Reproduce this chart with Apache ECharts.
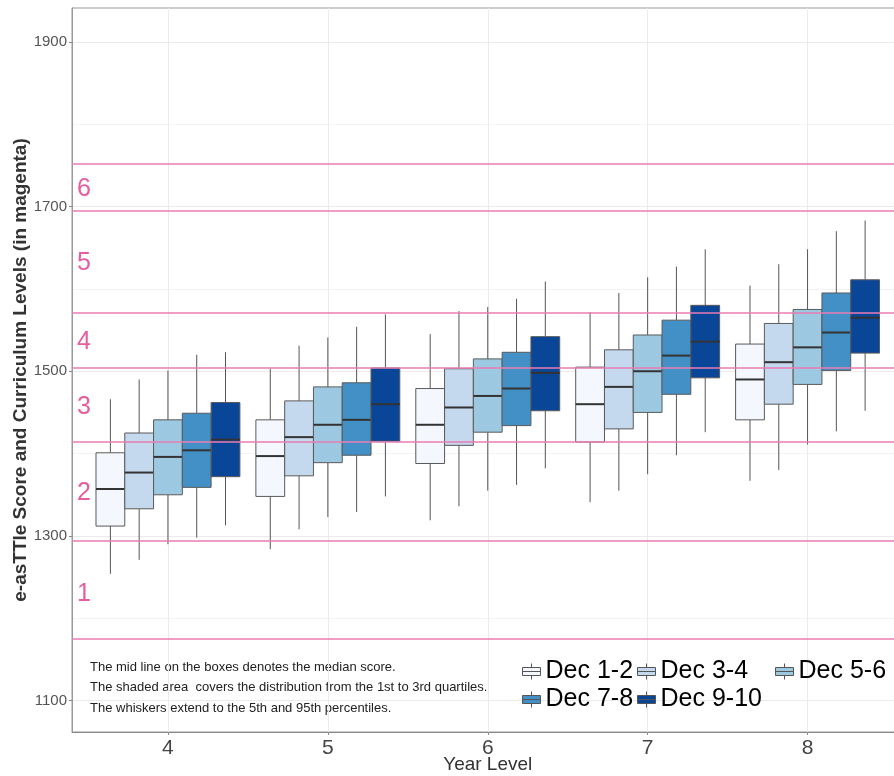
<!DOCTYPE html>
<html>
<head>
<meta charset="utf-8">
<script src="https://cdn.jsdelivr.net/npm/echarts@6/dist/echarts.min.js"></script>
<style>html,body{margin:0;padding:0;background:#fff}#c{width:894px;height:776px}</style>
</head>
<body>
<div id="c"></div>
<script>
// ---- data ----
const years = [4, 5, 6, 7, 8];
const seriesNames = ['Dec 1-2', 'Dec 3-4', 'Dec 5-6', 'Dec 7-8', 'Dec 9-10'];
// rows per year: [p5, q1, median, q3, p95]
const dec12  = [[1254,1312,1357,1401,1466],[1284,1348,1397,1441,1503],[1319,1388,1435,1479,1545],[1341,1414,1460,1505,1572],[1367,1441,1490,1533,1604]];
const dec34  = [[1271,1333,1377,1425,1490],[1308,1373,1420,1464,1531],[1336,1410,1456,1503,1573],[1355,1430,1481,1526,1595],[1380,1460,1511,1558,1630]];
const dec56  = [[1290,1350,1396,1441,1501],[1323,1389,1435,1481,1541],[1355,1426,1470,1515,1578],[1375,1450,1500,1544,1614],[1411,1484,1529,1575,1648]];
const dec78  = [[1298,1359,1404,1449,1520],[1329,1398,1441,1486,1554],[1362,1434,1479,1523,1588],[1398,1472,1519,1562,1627],[1427,1501,1547,1595,1670]];
const dec910 = [[1313,1372,1417,1462,1523],[1348,1415,1460,1504,1569],[1382,1452,1498,1542,1609],[1426,1492,1536,1580,1648],[1452,1522,1565,1611,1683]];
const levelBoundaries = [1175, 1294, 1414, 1504, 1571, 1695, 1752];
const levelNames = ['1', '2', '3', '4', '5', '6'];
const levelLabelValues = [1230, 1352, 1457, 1535, 1631, 1721];
const yTickValues = [1100, 1300, 1500, 1700, 1900];
const yMinorValues = [1200, 1400, 1600, 1800];
const notes = [
  'The mid line on the boxes denotes the median score.',
  'The shaded area  covers the distribution from the 1st to 3rd quartiles.',
  'The whiskers extend to the 5th and 95th percentiles.'
];

// ---- styling ----
const FONT = '"Liberation Sans", Arial, sans-serif';
const colors = ['#f4f7fd', '#c4d8ee', '#9dc8e1', '#4390c6', '#0a4698'];
const dodge = 0.18;
const allRows = [dec12, dec34, dec56, dec78, dec910];

function makeSeries(name, rows, idx, color) {
  return {
    type: 'custom',
    name: name,
    data: years.map((y, k) => [y].concat(rows[k])),
    encode: { x: 0, y: [1, 2, 3, 4, 5] },
    itemStyle: { color: color },
    renderItem: function (params, api) {
      const x = api.value(0) + (idx - 2) * dodge;
      const w = api.size([dodge, 0])[0];
      const p5 = api.coord([x, api.value(1)]);
      const q1 = api.coord([x, api.value(2)]);
      const md = api.coord([x, api.value(3)]);
      const q3 = api.coord([x, api.value(4)]);
      const p95 = api.coord([x, api.value(5)]);
      const cx = p5[0];
      const left = cx - w / 2;
      return {
        type: 'group',
        children: [
          { type: 'line', shape: { x1: cx, y1: p95[1], x2: cx, y2: q3[1] }, style: { stroke: '#555', lineWidth: 1 } },
          { type: 'line', shape: { x1: cx, y1: q1[1], x2: cx, y2: p5[1] }, style: { stroke: '#555', lineWidth: 1 } },
          { type: 'rect', shape: { x: left, y: q3[1], width: w, height: q1[1] - q3[1] }, style: { fill: color, stroke: '#5a5a5a', lineWidth: 1 } },
          { type: 'line', shape: { x1: left, y1: md[1], x2: left + w, y2: md[1] }, style: { stroke: '#333', lineWidth: 2 } }
        ]
      };
    }
  };
}

const series = seriesNames.map((n, i) => makeSeries(n, allRows[i], i, colors[i]));

series.push({
  type: 'scatter',
  name: 'levels',
  silent: true,
  symbolSize: 1,
  itemStyle: { color: 'rgba(0,0,0,0)' },
  data: levelNames.map((n, i) => ({ value: [3.475, levelLabelValues[i]], name: n })),
  label: {
    show: true, position: 'inside', formatter: p => p.name,
    fontSize: 25, color: '#de3487', fontFamily: FONT, textBorderWidth: 0
  },
  markLine: {
    silent: true, symbol: 'none', animation: false,
    label: { show: false },
    lineStyle: { color: '#e87db3', width: 1.5, type: 'solid' },
    data: levelBoundaries.map(v => ({ yAxis: v }))
  },
  z: 1
});

const legendIcon = 'path://M9,0V4M9,12V16M0,4H18V12H0ZM0,8H18';
const legendPos = [[522, 659], [637, 659], [775, 659], [522, 687], [637, 687]];
const legends = seriesNames.map((n, i) => ({
  data: [{ name: n, icon: legendIcon }],
  left: legendPos[i][0], top: legendPos[i][1],
  padding: 0, itemWidth: 18, itemHeight: 16,
  itemStyle: { borderColor: '#555', borderWidth: 1 },
  textStyle: { fontSize: 25, color: '#000', fontFamily: FONT },
  selectedMode: false
}));

const option = {
  animation: false,
  backgroundColor: '#fff',
  textStyle: { fontFamily: FONT },
  grid: { left: 72, right: -9.5, top: 8, bottom: 44, outerBoundsMode: 'none', containLabel: false,
          show: true, borderColor: '#999', borderWidth: 1, backgroundColor: 'rgba(0,0,0,0)' },
  legend: legends,
  xAxis: {
    type: 'value', min: 3.4, max: 8.6,
    name: 'Year Level', nameLocation: 'middle', nameGap: 23, nameMoveOverlap: false,
    nameTextStyle: { fontSize: 19, color: '#333', fontFamily: FONT },
    axisLine: { show: true, lineStyle: { color: '#888', width: 1 } },
    axisTick: { show: true, length: 3, lineStyle: { color: '#888' }, customValues: years },
    axisLabel: { customValues: years, fontSize: 21, color: '#444', margin: 6, fontFamily: FONT },
    splitLine: { show: true, lineStyle: { color: '#ebebeb', width: 1 } }
  },
  yAxis: [{
    type: 'value', min: 1062, max: 1941,
    name: 'e-asTTle Score and Curriculum Levels (in magenta)', nameLocation: 'middle', nameGap: 42, nameMoveOverlap: false,
    nameTextStyle: { fontSize: 19, fontWeight: 'bold', color: '#333', fontFamily: FONT },
    axisLine: { show: true, lineStyle: { color: '#999', width: 1 } },
    axisTick: { show: true, length: 3, lineStyle: { color: '#888' }, customValues: yTickValues },
    axisLabel: { customValues: yTickValues, formatter: v => String(v), fontSize: 15, color: '#555', margin: 5, fontFamily: FONT },
    splitLine: { show: true, lineStyle: { color: '#ebebeb', width: 1 } }
  }, {
    type: 'value', min: 1062, max: 1941, position: 'left',
    axisLine: { show: false }, axisLabel: { show: false },
    axisTick: { show: false, customValues: yMinorValues },
    splitLine: { show: true, lineStyle: { color: '#f3f3f3', width: 1 } }
  }],
  graphic: [{
    type: 'text', left: 90, top: 657,
    style: { text: notes.join('\n'), font: '13px ' + FONT, lineHeight: 20.5, fill: '#222' }
  }],
  series: series
};

const chart = echarts.init(document.getElementById('c'), null, { renderer: 'canvas' });
chart.setOption(option);
</script>
</body>
</html>
